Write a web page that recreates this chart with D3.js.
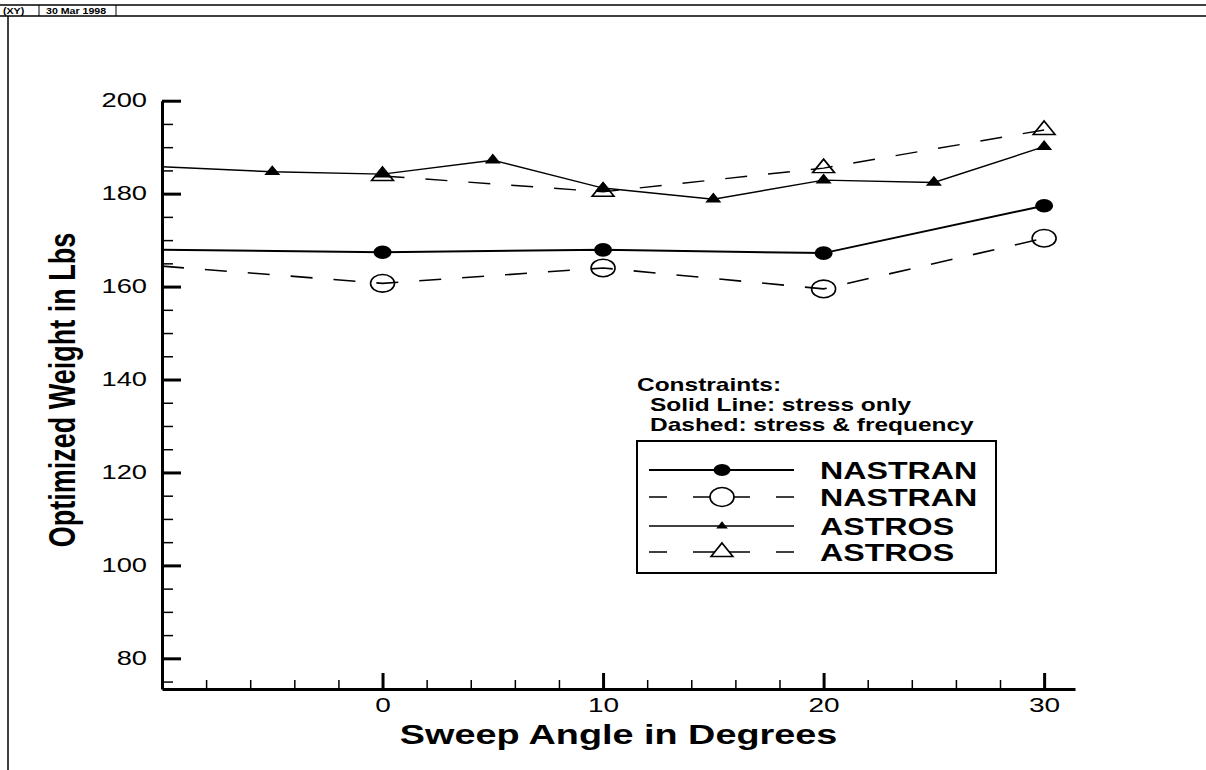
<!DOCTYPE html>
<html>
<head>
<meta charset="utf-8">
<script src="https://cdn.jsdelivr.net/npm/d3@7"></script>
<style>
  body { margin: 0; background: #fff; }
  svg { display: block; }
  text { font-family: "Liberation Sans", Arial, Helvetica, sans-serif; fill: #000; }
</style>
</head>
<body>
<div id="chart"></div>
<script>
// values
var sweepNastran = [-10, 0, 10, 20, 30];
var nastranStress = [167.9, 167.4, 167.9, 167.2, 177.4];
var nastranFreq = [164.4, 160.7, 164.0, 159.5, 170.4];

var sweepAstros = [-10, -5, 0, 5, 10, 15, 20, 25, 30];
var astrosStress = [185.8, 184.7, 184.2, 187.2, 181.2, 178.8, 182.9, 182.4, 190.1];
var sweepAstrosFreq = [0, 10, 20, 30];
var astrosFreq = [183.8, 180.4, 185.5, 193.7];

var xTicks = [0, 10, 20, 30];
var yTicks = [80, 100, 120, 140, 160, 180, 200];
var legendLabels = ["NASTRAN", "NASTRAN", "ASTROS", "ASTROS"];
var constraintNotes = ["Constraints:", "Solid Line: stress only", "Dashed: stress & frequency"];

var W = 1206, H = 770;
var stretch = 1.4; // the scan is wider than tall, text and markers follow it

var svg = d3.select("#chart").append("svg")
  .attr("width", W)
  .attr("height", H);

// header strip
svg.append("line").attr("x1", 0).attr("x2", W).attr("y1", 5).attr("y2", 5)
  .attr("stroke", "#000").attr("stroke-width", 1.5);
svg.append("line").attr("x1", 0).attr("x2", W).attr("y1", 16).attr("y2", 16)
  .attr("stroke", "#000").attr("stroke-width", 1.5);
svg.append("line").attr("x1", 8).attr("x2", 8).attr("y1", 16).attr("y2", H)
  .attr("stroke", "#000").attr("stroke-width", 1.5);
[39, 116].forEach(function (bx) {
  svg.append("line").attr("x1", bx).attr("x2", bx).attr("y1", 5).attr("y2", 16)
    .attr("stroke", "#000").attr("stroke-width", 1);
});
svg.append("text")
  .attr("transform", "translate(3,14) scale(1.25,1)")
  .style("font-size", "8.5px").style("font-weight", "bold")
  .text("(XY)");
svg.append("text")
  .attr("transform", "translate(46,14) scale(1.25,1)")
  .style("font-size", "8.5px").style("font-weight", "bold")
  .text("30 Mar 1998");

var x = d3.scaleLinear().domain([-10, 31.4]).range([162, 1075]);
var y = d3.scaleLinear().domain([73.4, 200]).range([689, 100.7]);

// minor ticks first, majors on top
svg.append("g")
  .attr("transform", "translate(" + x.range()[0] + ",0)")
  .call(d3.axisLeft(y).tickValues(d3.range(75, 200, 5)).tickSize(-11).tickSizeOuter(0).tickFormat(""))
  .call(function (g) { g.select(".domain").remove(); })
  .selectAll("line").attr("stroke-width", 1.5);

svg.append("g")
  .attr("transform", "translate(0," + y.range()[0] + ")")
  .call(d3.axisBottom(x).tickValues(d3.range(-8, 31, 2)).tickSize(-9).tickSizeOuter(0).tickFormat(""))
  .call(function (g) { g.select(".domain").remove(); })
  .selectAll("line").attr("stroke-width", 1.5);

var yAxis = svg.append("g")
  .attr("transform", "translate(" + x.range()[0] + ",0)")
  .call(d3.axisLeft(y).tickValues(yTicks).tickSize(-19).tickSizeOuter(0).tickPadding(15));
yAxis.select(".domain").attr("stroke-width", 3);
yAxis.selectAll("line").attr("stroke-width", 3);
yAxis.selectAll("text")
  .attr("x", -15 / stretch)
  .attr("transform", "scale(" + stretch + ",1)")
  .style("font-size", "19.5px");

var xAxis = svg.append("g")
  .attr("transform", "translate(0," + y.range()[0] + ")")
  .call(d3.axisBottom(x).tickValues(xTicks).tickSize(-16).tickSizeOuter(0).tickPadding(9));
xAxis.select(".domain").attr("stroke-width", 3);
xAxis.selectAll("line").attr("stroke-width", 3);
xAxis.selectAll("text")
  .attr("transform", "scale(" + stretch + ",1)")
  .style("font-size", "20px");

// axis titles
svg.append("text")
  .attr("transform", "translate(" + ((x.range()[0] + x.range()[1]) / 2) + ",744) scale(" + stretch + ",1)")
  .attr("text-anchor", "middle")
  .style("font-size", "27px").style("font-weight", "bold")
  .text("Sweep Angle in Degrees");

svg.append("text")
  .attr("transform", "translate(75,390) scale(" + stretch + ",1) rotate(-90)")
  .attr("text-anchor", "middle")
  .style("font-size", "27px").style("font-weight", "bold")
  .text("Optimized Weight in Lbs");

// series
function pts(xs, ys) {
  return xs.map(function (v, i) { return { x: v, y: ys[i] }; });
}

var series = [
  { data: pts(sweepNastran, nastranStress), dash: null, width: 2, marker: "dot" },
  { data: pts(sweepNastran, nastranFreq), dash: "22,21", width: 1.6, marker: "ring" },
  { data: pts(sweepAstros, astrosStress), dash: null, width: 1.4, marker: "tri" },
  { data: pts(sweepAstrosFreq, astrosFreq), dash: "22,21", width: 1.4, marker: "opentri" }
];

var line = d3.line()
  .x(function (d) { return x(d.x); })
  .y(function (d) { return y(d.y); });

var triSmall = d3.symbol().type(d3.symbolTriangle).size(57);
var triBig = d3.symbol().type(d3.symbolTriangle).size(105);

function drawMarker(g, kind, cx, cy, legend) {
  if (kind === "dot") {
    g.append("ellipse").attr("cx", cx).attr("cy", cy)
      .attr("rx", legend ? 8.5 : 9).attr("ry", legend ? 6 : 6.8).attr("fill", "#000");
  } else if (kind === "ring") {
    g.append("ellipse").attr("cx", cx).attr("cy", cy)
      .attr("rx", 12).attr("ry", legend ? 9.5 : 8.8)
      .attr("fill", legend ? "#fff" : "none").attr("stroke", "#000").attr("stroke-width", 1.6);
  } else if (kind === "tri") {
    g.append("path")
      .attr("d", legend ? d3.symbol().type(d3.symbolTriangle).size(30)() : triSmall())
      .attr("transform", "translate(" + cx + "," + cy + ") scale(" + stretch + ",1)")
      .attr("fill", "#000");
  } else {
    g.append("path")
      .attr("d", triBig())
      .attr("transform", "translate(" + cx + "," + cy + ") scale(" + stretch + ",1)")
      .attr("fill", legend ? "#fff" : "none").attr("stroke", "#000").attr("stroke-width", 1.4);
  }
}

series.forEach(function (s) {
  var g = svg.append("g");
  g.append("path")
    .datum(s.data)
    .attr("d", line)
    .attr("fill", "none")
    .attr("stroke", "#000")
    .attr("stroke-width", s.width)
    .attr("stroke-dasharray", s.dash);
  s.data.filter(function (d) { return d.x > x.domain()[0]; }).forEach(function (d) {
    drawMarker(g, s.marker, x(d.x), y(d.y), false);
  });
});

// constraint note
constraintNotes.forEach(function (t, i) {
  svg.append("text")
    .attr("transform", "translate(" + (i === 0 ? 637 : 650) + "," + (391 + i * 20) + ") scale(" + stretch + ",1)")
    .style("font-size", "17.5px").style("font-weight", "bold")
    .text(t);
});

// legend box
var leg = svg.append("g");
leg.append("rect")
  .attr("x", 637).attr("y", 441).attr("width", 359).attr("height", 132)
  .attr("fill", "#fff").attr("stroke", "#000").attr("stroke-width", 2);

var legRows = [470, 497, 526, 552];
series.forEach(function (s, i) {
  leg.append("line")
    .attr("x1", 649).attr("x2", 794)
    .attr("y1", legRows[i]).attr("y2", legRows[i])
    .attr("stroke", "#000")
    .attr("stroke-width", s.width)
    .attr("stroke-dasharray", s.dash ? "18,26,57,26,18" : null);
  drawMarker(leg, s.marker, 722, legRows[i], true);
  leg.append("text")
    .attr("transform", "translate(820," + (legRows[i] + 8.5) + ") scale(" + stretch + ",1)")
    .style("font-size", "23px").style("font-weight", "bold")
    .text(legendLabels[i]);
});
</script>
</body>
</html>
